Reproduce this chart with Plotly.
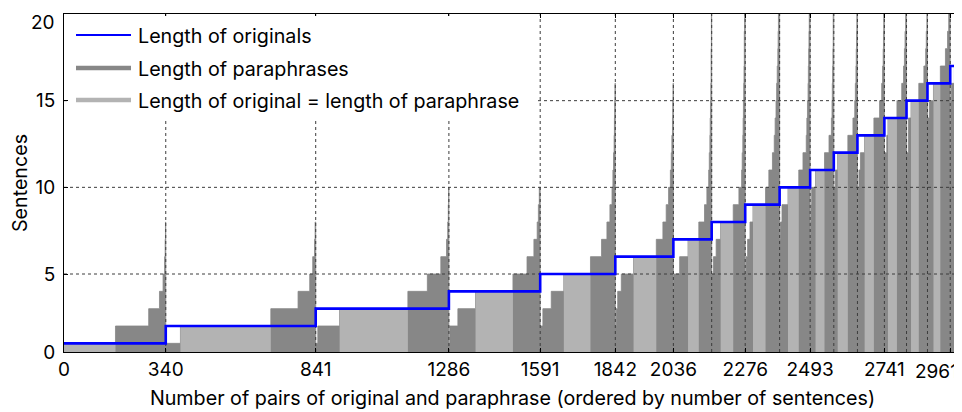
import plotly.graph_objects as go

# ---------------- data ----------------
orig_lengths = list(range(1, 18))

# paraphrase lengths (sorted) within each group of originals with the same length
para_lengths = [
    [1, 2, 3, 4, 5, 6, 7, 8],
    [1, 2, 3, 4, 5, 6, 7, 8],
    [1, 2, 3, 4, 5, 6, 7, 8, 9, 10],
    [1, 2, 3, 4, 5, 6, 7, 8, 9, 10],
    [2, 3, 4, 5, 6, 7, 8, 9, 10, 11, 12, 13, 14, 15, 16],
    [2, 3, 4, 5, 6, 7, 8, 9, 10, 11, 12, 13, 14, 15, 16],
    [4, 5, 6, 7, 8, 9, 10, 11, 12, 13, 14, 15, 16, 18, 21],
    [5, 6, 7, 8, 9, 10, 11, 12, 13, 14, 15, 16, 17, 19, 22, 25],
    [5, 6, 7, 8, 9, 10, 11, 12, 13, 14, 15, 16, 17, 18, 19, 20, 22, 24, 26],
    [7, 8, 9, 10, 11, 12, 13, 14, 15, 16, 17, 18, 19, 20, 23, 26],
    [7, 8, 9, 10, 11, 12, 13, 14, 15, 16, 17, 18, 20, 23],
    [10, 11, 12, 13, 14, 15, 16, 17, 18, 19, 21, 24],
    [8, 10, 11, 12, 13, 14, 15, 16, 17, 18, 19, 20, 22],
    [12, 13, 14, 15, 16, 17, 18, 19, 20, 22, 25],
    [12, 14, 15, 16, 17, 18, 19, 21, 23],
    [14, 15, 16, 17, 18, 19, 20, 22],
    [12, 15, 16, 17],
]
# number of pairs having each of those paraphrase lengths
para_counts = [
    [172, 111, 36, 12, 5, 2, 1, 1],
    [49, 302, 91, 39, 10, 6, 2, 2],
    [7, 73, 228, 65, 45, 19, 4, 2, 1, 1],
    [3, 27, 59, 125, 47, 23, 11, 4, 3, 3],
    [9, 28, 42, 89, 37, 18, 10, 7, 3, 2, 2, 1, 1, 1, 1],
    [3, 5, 12, 41, 76, 22, 11, 8, 6, 3, 2, 2, 1, 1, 1],
    [2, 19, 28, 36, 19, 8, 6, 2, 2, 1, 1, 1, 1, 1, 1],
    [6, 9, 15, 42, 19, 9, 2, 2, 1, 1, 1, 1, 1, 1, 1, 1],
    [3, 5, 8, 10, 42, 11, 12, 6, 3, 3, 2, 2, 2, 1, 1, 1, 1, 1, 1],
    [3, 5, 20, 36, 14, 11, 2, 2, 2, 1, 1, 1, 1, 1, 1, 1],
    [2, 1, 2, 13, 30, 15, 8, 2, 1, 1, 1, 1, 1, 1],
    [5, 8, 34, 17, 6, 2, 2, 1, 1, 1, 1, 1],
    [2, 3, 5, 14, 31, 19, 7, 3, 2, 1, 1, 1, 1],
    [8, 4, 30, 16, 6, 3, 2, 2, 1, 1, 1],
    [6, 9, 26, 17, 6, 2, 2, 1, 1],
    [6, 14, 23, 17, 7, 4, 3, 2],
    [2, 2, 10, 22],
]

x_tick_vals = [0, 340, 841, 1286, 1591, 1842, 2036, 2276, 2493, 2741, 2961]
x_tick_labels = ["0", "340", "841", "1286", "1591", "1842", "2036", "2276", "2493", "2741", "2961"]
y_tick_vals = [0.5, 5, 10, 15, 20]
y_tick_labels = ["0", "5", "10", "15", "20"]
y_grid_vals = [5, 10, 15]
y_range = [0.5, 20]

legend_labels = ["Length of originals", "Length of paraphrases",
                 "Length of original = length of paraphrase"]

DARK = "#878787"
LIGHT = "#b3b3b3"
BLUE = "#0000ff"
GRID = "#3c3c3c"
FONT = "Inter, Liberation Sans, Arial, sans-serif"
FS_TICK = 19
FS_TEXT = 19.7

# ---------------- build traces from data ----------------
starts = []
pos = 0
dark_x, dark_y = [], []
light_x, light_y = [], []
for L, lens, cnts in zip(orig_lengths, para_lengths, para_counts):
    starts.append(pos)
    for p, c in zip(lens, cnts):
        dark_x.append(pos)
        dark_y.append(p)
        if p == L:
            light_x += [pos, pos + c, pos + c, pos, pos, None]
            light_y += [p, p, 0, 0, p, None]
        pos += c
end = pos
dark_x.append(end)
dark_y.append(dark_y[-1])

fig = go.Figure()

fig.add_trace(go.Scatter(x=dark_x, y=dark_y, mode="lines", line_shape="hv",
                         line=dict(width=0.8, color=DARK), fill="tozeroy",
                         fillcolor=DARK, hoverinfo="skip", showlegend=False))
fig.add_trace(go.Scatter(x=light_x, y=light_y, mode="lines",
                         line=dict(width=0, color=LIGHT), fill="toself",
                         fillcolor=LIGHT, hoverinfo="skip", showlegend=False))

# dotted grid (drawn above the bars, as in the original)
gx, gy = [], []
for b in starts[1:]:
    gx += [b, b, None]
    gy += [y_range[0], y_range[1], None]
fig.add_trace(go.Scatter(x=gx, y=gy, mode="lines",
                         line=dict(width=1, color=GRID, dash="dot"),
                         hoverinfo="skip", showlegend=False))
hx, hy = [], []
for v in y_grid_vals:
    hx += [0, end, None]
    hy += [v, v, None]
fig.add_trace(go.Scatter(x=hx, y=hy, mode="lines",
                         line=dict(width=1, color=GRID, dash="dot"),
                         hoverinfo="skip", showlegend=False))

# blue stairs of original lengths
fig.add_trace(go.Scatter(x=starts + [end], y=orig_lengths + [orig_lengths[-1]],
                         mode="lines", line_shape="hv",
                         line=dict(width=2.6, color=BLUE),
                         hoverinfo="skip", showlegend=False))

# page coordinates (the page body adds an 8px offset)
OFF = 8
WIN_W, WIN_H = 962, 412
PL, PR, PT, PB = 64, 961, 14, 352       # plot area in window pixels
W, H = WIN_W - OFF, WIN_H - OFF
ML, MR, MT, MB = PL - OFF, WIN_W - PR, PT - OFF, WIN_H - PB
PW, PH = PR - PL, PB - PT


def px(xp):
    return (xp - PL) / PW


def py(yp):
    return (PB - yp) / PH


shapes = []
annotations = []
# legend box
shapes.append(dict(type="rect", xref="paper", yref="paper", layer="above",
                   x0=px(70), x1=px(537), y0=py(119), y1=py(16),
                   fillcolor="white", line=dict(width=0)))
leg_styles = [(BLUE, 2), (DARK, 4.5), (LIGHT, 4.5)]
leg_y = [35, 68, 100]
for (col, w), yy, lab in zip(leg_styles, leg_y, legend_labels):
    shapes.append(dict(type="line", xref="paper", yref="paper", layer="above",
                       x0=px(76), x1=px(131), y0=py(yy), y1=py(yy),
                       line=dict(color=col, width=w)))
    annotations.append(dict(xref="paper", yref="paper", x=px(136), y=py(yy + 1),
                            xanchor="left", yanchor="middle", showarrow=False,
                            text=lab, font=dict(size=FS_TEXT, color="black", family=FONT)))

# end tick labels kept inside the page (as in the original picture)
annotations.append(dict(xref="paper", yref="paper", x=px(960), y=py(358),
                        xanchor="right", yanchor="top", showarrow=False,
                        text=x_tick_labels[-1],
                        font=dict(size=FS_TICK, color="black", family=FONT)))
annotations.append(dict(xref="paper", yref="paper", x=px(57), y=py(22),
                        xanchor="right", yanchor="middle", showarrow=False,
                        text=y_tick_labels[-1],
                        font=dict(size=FS_TICK, color="black", family=FONT)))

fig.update_layout(
    width=W, height=H,
    margin=dict(l=ML, r=MR, t=MT, b=MB, autoexpand=False),
    plot_bgcolor="white", paper_bgcolor="white",
    font=dict(family=FONT, size=FS_TICK, color="black"),
    shapes=shapes, annotations=annotations,
    showlegend=False,
)
fig.update_xaxes(range=[0, end], tickvals=x_tick_vals,
                 ticktext=x_tick_labels[:-1] + [""],
                 showgrid=False, zeroline=False,
                 showline=True, linecolor="black", linewidth=1, mirror="ticks",
                 ticks="inside", ticklen=4, tickcolor="black",
                 tickfont=dict(size=FS_TICK), layer="above traces",
                 title=dict(text="Number of pairs of original and paraphrase (ordered by number of sentences)",
                            font=dict(size=FS_TEXT), standoff=11))
fig.update_yaxes(range=y_range, tickvals=y_tick_vals, ticktext=y_tick_labels[:-1] + [""],
                 showgrid=False, zeroline=False,
                 showline=True, linecolor="black", linewidth=1, mirror="ticks",
                 ticks="inside", ticklen=4, tickcolor="black",
                 tickfont=dict(size=FS_TICK), layer="above traces", ticklabelstandoff=4,
                 title=dict(text="Sentences", font=dict(size=FS_TEXT), standoff=6))

fig.write_html("out.html")
